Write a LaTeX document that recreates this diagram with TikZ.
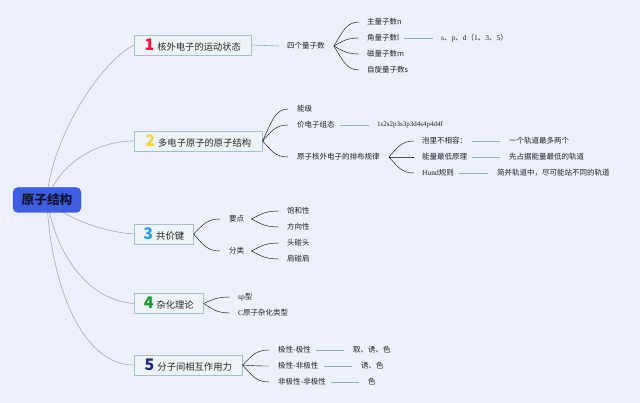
\documentclass[tikz,border=0pt]{standalone}
\usepackage{fontspec}
\setmainfont{Noto Sans CJK SC}
\newfontfamily\serf{Liberation Serif}
\usetikzlibrary{calc}
\definecolor{bgc}{HTML}{EBF0FA}
\definecolor{rootfill}{HTML}{3F5FE0}
\definecolor{rootedge}{HTML}{3450C8}
\definecolor{roottext}{HTML}{10143A}
\definecolor{boxfill}{HTML}{EEF3F8}
\definecolor{boxedge}{HTML}{A9BFCB}
\definecolor{conngray}{HTML}{A3ABB5}
\definecolor{branchc}{HTML}{8DB3B6}
\definecolor{leaftext}{HTML}{222222}
\definecolor{nA}{HTML}{E8173C}
\definecolor{nB}{HTML}{F5D54A}
\definecolor{nC}{HTML}{2D9CDB}
\definecolor{nD}{HTML}{179A2B}
\definecolor{nE}{HTML}{1E2B7A}
\newcommand\numf{\bfseries\fontsize{16}{16}\selectfont}
\begin{document}
\begin{tikzpicture}[x=1pt,y=-1pt,
  rootbox/.style={fill=rootfill,draw=rootedge,rounded corners=5pt,minimum width=68pt,minimum height=25pt,inner sep=2pt,text=roottext,font=\bfseries\fontsize{12.7}{14}\selectfont},
  mainbox/.style={draw=boxedge,fill=boxfill,line width=0.6pt,minimum height=20pt,inner sep=2pt,anchor=west,text=black!85,font=\fontsize{9.3}{11}\selectfont},
  leaf/.style={anchor=west,inner sep=1pt,text=leaftext,font=\fontsize{7.5}{9}\selectfont},
  conn/.style={draw=conngray,line width=0.6pt},
  brl/.style={draw=branchc,line width=0.6pt},
  fan/.style={brl,to path={let \p1=(\tikztostart), \p2=(\tikztotarget) in
     .. controls ({\x1+0.35*(\x2-\x1)},{\y1+0.6*(\y2-\y1)}) and ({\x1+0.5*(\x2-\x1)},\y2) .. (\tikztotarget)}}
]
\fill[bgc] (0,0) rectangle (640,403);
\useasboundingbox (0,0) rectangle (640,403);

% main boxes
\node[mainbox,minimum width=117pt] (b1) at (134,45) {{\numf\textcolor{nA}{1}}\hspace{3pt}核外电子的运动状态};
\node[mainbox,minimum width=128pt] (b2) at (134,141) {{\numf\textcolor{nB}{2}}\hspace{3pt}多电子原子的原子结构};
\node[mainbox,minimum width=59pt] (b3) at (134,234) {{\numf\textcolor{nC}{3}}\hspace{3pt}共价键};
\node[mainbox,minimum width=69pt] (b4) at (134,303.5) {{\numf\textcolor{nD}{4}}\hspace{3pt}杂化理论};
\node[mainbox,minimum width=108pt] (b5) at (134,365) {{\numf\textcolor{nE}{5}}\hspace{3pt}分子间相互作用力};

% root connectors
\coordinate (rc) at (47,200);
\draw[conn] (rc) .. controls (50,140) and (100,62) .. (b1.west);
\draw[conn] (rc) .. controls (58,165) and (95,141) .. (b2.west);
\draw[conn] (rc) .. controls (60,215) and (100,232) .. (b3.west);
\draw[conn] (rc) .. controls (55,250) and (85,300) .. (b4.west);
\draw[conn] (rc) .. controls (50,280) and (80,365) .. (b5.west);
\node[rootbox] (root) at (rc) {原子结构};

% branch 1
\node[leaf] (q) at (286,46) {四个量子数};
\node[leaf] (q1) at (366,22) {主量子数n};
\node[leaf] (q2) at (366,38) {角量子数l};
\node[leaf] (q3) at (366,54) {磁量子数m};
\node[leaf] (q4) at (366,70) {自旋量子数s};
\node[leaf] (q2a) at (440,38) {{\serf s}、{\serf p}、{\serf d}（{\serf 1}、{\serf 3}、{\serf 5}）};
\draw[brl] (b1.east) -- ([xshift=-7pt]q.west);
\foreach \c in {q1,q2,q3,q4}{\draw ([xshift=8pt]q.east) to[fan] ([xshift=-7pt]\c.west);}
\draw[brl] ([xshift=3pt]q2.east) -- ([xshift=-7pt]q2a.west);

% branch 2
\node[leaf] (e1) at (296,109) {能级};
\node[leaf] (e2) at (296,125) {价电子组态};
\node[leaf] (e3) at (296,157) {原子核外电子的排布规律};
\node[leaf,font=\serf\fontsize{7}{9}\selectfont] (e2a) at (376,125) {1s2s2p3s3p3d4s4p4d4f};
\foreach \c in {e1,e2,e3}{\draw (b2.east) to[fan] ([xshift=-8pt]\c.west);}
\draw[brl] ([xshift=4pt]e2.east) -- ([xshift=-7pt]e2a.west);
\node[leaf] (r1) at (421,141) {泡里不相容：};
\node[leaf] (r2) at (421,157) {能量最低原理};
\node[leaf] (r3) at (421,173) {{\serf Hund}规则};
\foreach \c in {r1,r2,r3}{\draw ([xshift=8pt]e3.east) to[fan] ([xshift=-7pt]\c.west);}
\node[leaf] (r1a) at (508,141) {一个轨道最多两个};
\node[leaf] (r2a) at (508,157) {先占据能量最低的轨道};
\node[leaf] (r3a) at (496,173) {简并轨道中，尽可能站不同的轨道};
\draw[brl] ([xshift=4pt]r1.east) -- ([xshift=-8pt]r1a.west);
\draw[brl] ([xshift=4pt]r2.east) -- ([xshift=-8pt]r2a.west);
\draw[brl] ([xshift=4pt]r3.east) -- ([xshift=-8pt]r3a.west);

% branch 3
\node[leaf] (k1) at (228,219) {要点};
\node[leaf] (k2) at (228,251) {分类};
\foreach \c in {k1,k2}{\draw (b3.east) to[fan] ([xshift=-8pt]\c.west);}
\node[leaf] (k11) at (286,211) {饱和性};
\node[leaf] (k12) at (286,227) {方向性};
\node[leaf] (k21) at (286,243) {头碰头};
\node[leaf] (k22) at (286,259) {肩碰肩};
\foreach \c in {k11,k12}{\draw ([xshift=6pt]k1.east) to[fan] ([xshift=-7pt]\c.west);}
\foreach \c in {k21,k22}{\draw ([xshift=6pt]k2.east) to[fan] ([xshift=-7pt]\c.west);}

% branch 4
\node[leaf] (h1) at (237,297) {{\serf sp}型};
\node[leaf] (h2) at (237,313) {{\serf C}原子杂化类型};
\foreach \c in {h1,h2}{\draw (b4.east) to[fan] ([xshift=-7pt]\c.west);}

% branch 5
\node[leaf] (m1) at (277,350) {极性-极性};
\node[leaf] (m2) at (277,366) {极性-非极性};
\node[leaf] (m3) at (277,382) {非极性-非极性};
\foreach \c in {m1,m2,m3}{\draw (b5.east) to[fan] ([xshift=-8pt]\c.west);}
\node[leaf] (m1a) at (352,350) {取、诱、色};
\node[leaf] (m2a) at (360,366) {诱、色};
\node[leaf] (m3a) at (367,382) {色};
\draw[brl] ([xshift=4pt]m1.east) -- ([xshift=-8pt]m1a.west);
\draw[brl] ([xshift=4pt]m2.east) -- ([xshift=-8pt]m2a.west);
\draw[brl] ([xshift=4pt]m3.east) -- ([xshift=-8pt]m3a.west);
\end{tikzpicture}
\end{document}
